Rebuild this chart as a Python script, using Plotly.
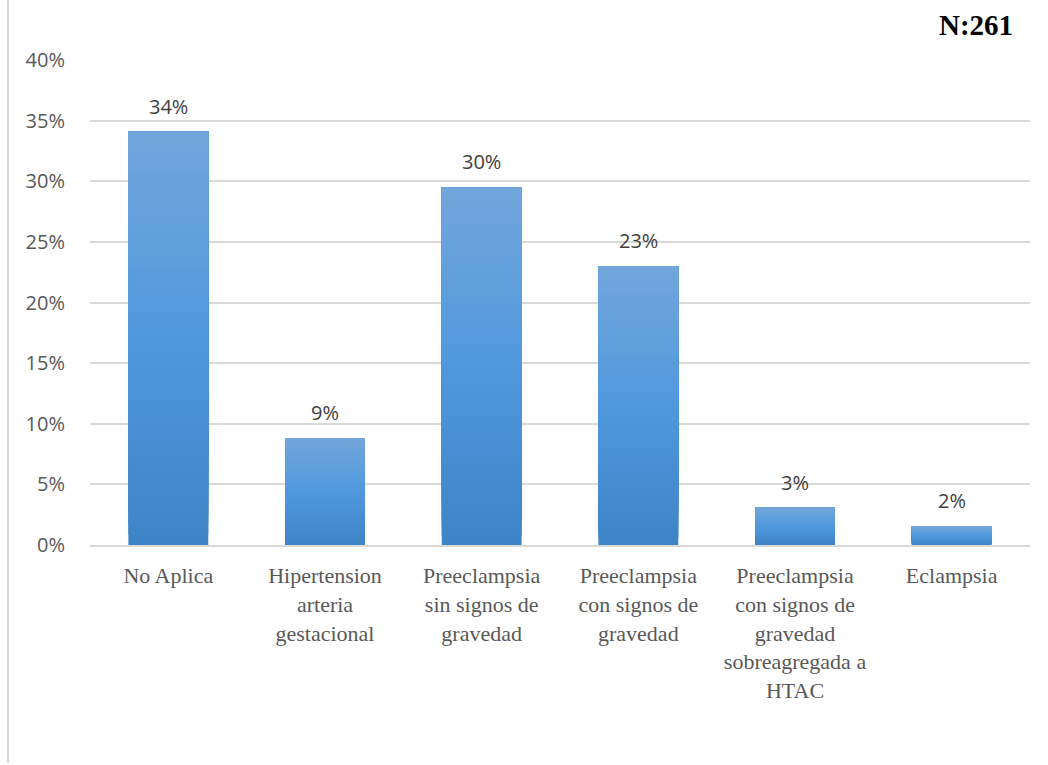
import plotly.graph_objects as go

# Patient counts per category (N = 261)
categorias = [
    "No Aplica",
    "Hipertension<br>arteria<br>gestacional",
    "Preeclampsia<br>sin signos de<br>gravedad",
    "Preeclampsia<br>con signos de<br>gravedad",
    "Preeclampsia<br>con signos de<br>gravedad<br>sobreagregada a<br>HTAC",
    "Eclampsia",
]
casos = [89, 23, 77, 60, 8, 4]
total = 261
porcentajes = [c / total for c in casos]

y_ticks = [0, 0.05, 0.10, 0.15, 0.20, 0.25, 0.30, 0.35, 0.40]
y_tick_text = ["0%", "5%", "10%", "15%", "20%", "25%", "30%", "35%", "40%"]


def mix(c1, c2, t):
    a = [int(c1[i:i + 2], 16) for i in (1, 3, 5)]
    b = [int(c2[i:i + 2], 16) for i in (1, 3, 5)]
    return "rgb({},{},{})".format(*[round(a[i] + (b[i] - a[i]) * t) for i in range(3)])


TOP, MID, BOT = "#72A6DB", "#5099DD", "#3E84C6"

fig = go.Figure()

# Vertical gradient fill: each layer starts higher and runs to the bar top,
# drawn over the previous one, so no seams show between layers
n_slices = 40
for k in range(n_slices):
    frac = (k + 0.5) / n_slices  # 0 bottom .. 1 top
    if frac < 0.5:
        col = mix(BOT, MID, frac / 0.5)
    else:
        col = mix(MID, TOP, (frac - 0.5) / 0.5)
    fig.add_trace(go.Bar(
        x=categorias,
        y=[p * (1 - k / n_slices) for p in porcentajes],
        base=[p * k / n_slices for p in porcentajes],
        marker=dict(color=col, line=dict(width=0)),
        hoverinfo="skip",
        showlegend=False,
    ))

# Value labels above the bars
for cat, p in zip(categorias, porcentajes):
    fig.add_annotation(
        x=cat, y=p, text=f"{p * 100:.0f}%", showarrow=False,
        yanchor="bottom", yshift=10,
        font=dict(family="Open Sans, Lato, sans-serif", size=20, color="#404040"),
    )

fig.add_annotation(
    xref="paper", yref="paper", x=0.984, y=1.072,
    xanchor="right", yanchor="middle", showarrow=False,
    text="<b>N:261</b>",
    font=dict(family="Liberation Serif, Times New Roman, serif", size=29, color="#000000"),
)

# Chart frame edge on the left
fig.add_shape(
    type="line", xref="paper", yref="paper",
    x0=-0.0872, x1=-0.0872, y0=-0.4495, y1=1.13,
    line=dict(color="#D9D9D9", width=2),
)

fig.update_layout(
    width=1048, height=765,
    margin=dict(l=90, r=18, t=60, b=220),
    paper_bgcolor="white", plot_bgcolor="white",
    barmode="overlay", bargap=0.49,
    showlegend=False,
)

fig.update_xaxes(
    showgrid=False, showline=True, linecolor="#D9D9D9", linewidth=2,
    ticks="", ticklabelstandoff=10,
    tickfont=dict(family="Liberation Serif, Times New Roman, serif", size=22, color="#595959"),
)
fig.update_yaxes(
    range=[0, 0.40], tickvals=y_ticks, ticktext=y_tick_text,
    showgrid=True, gridcolor="#D9D9D9", gridwidth=1.5,
    zeroline=False, showline=False, ticks="", ticklabelstandoff=24,
    tickfont=dict(family="Open Sans, Lato, sans-serif", size=20, color="#595959"),
)

fig.write_html("out.html")
